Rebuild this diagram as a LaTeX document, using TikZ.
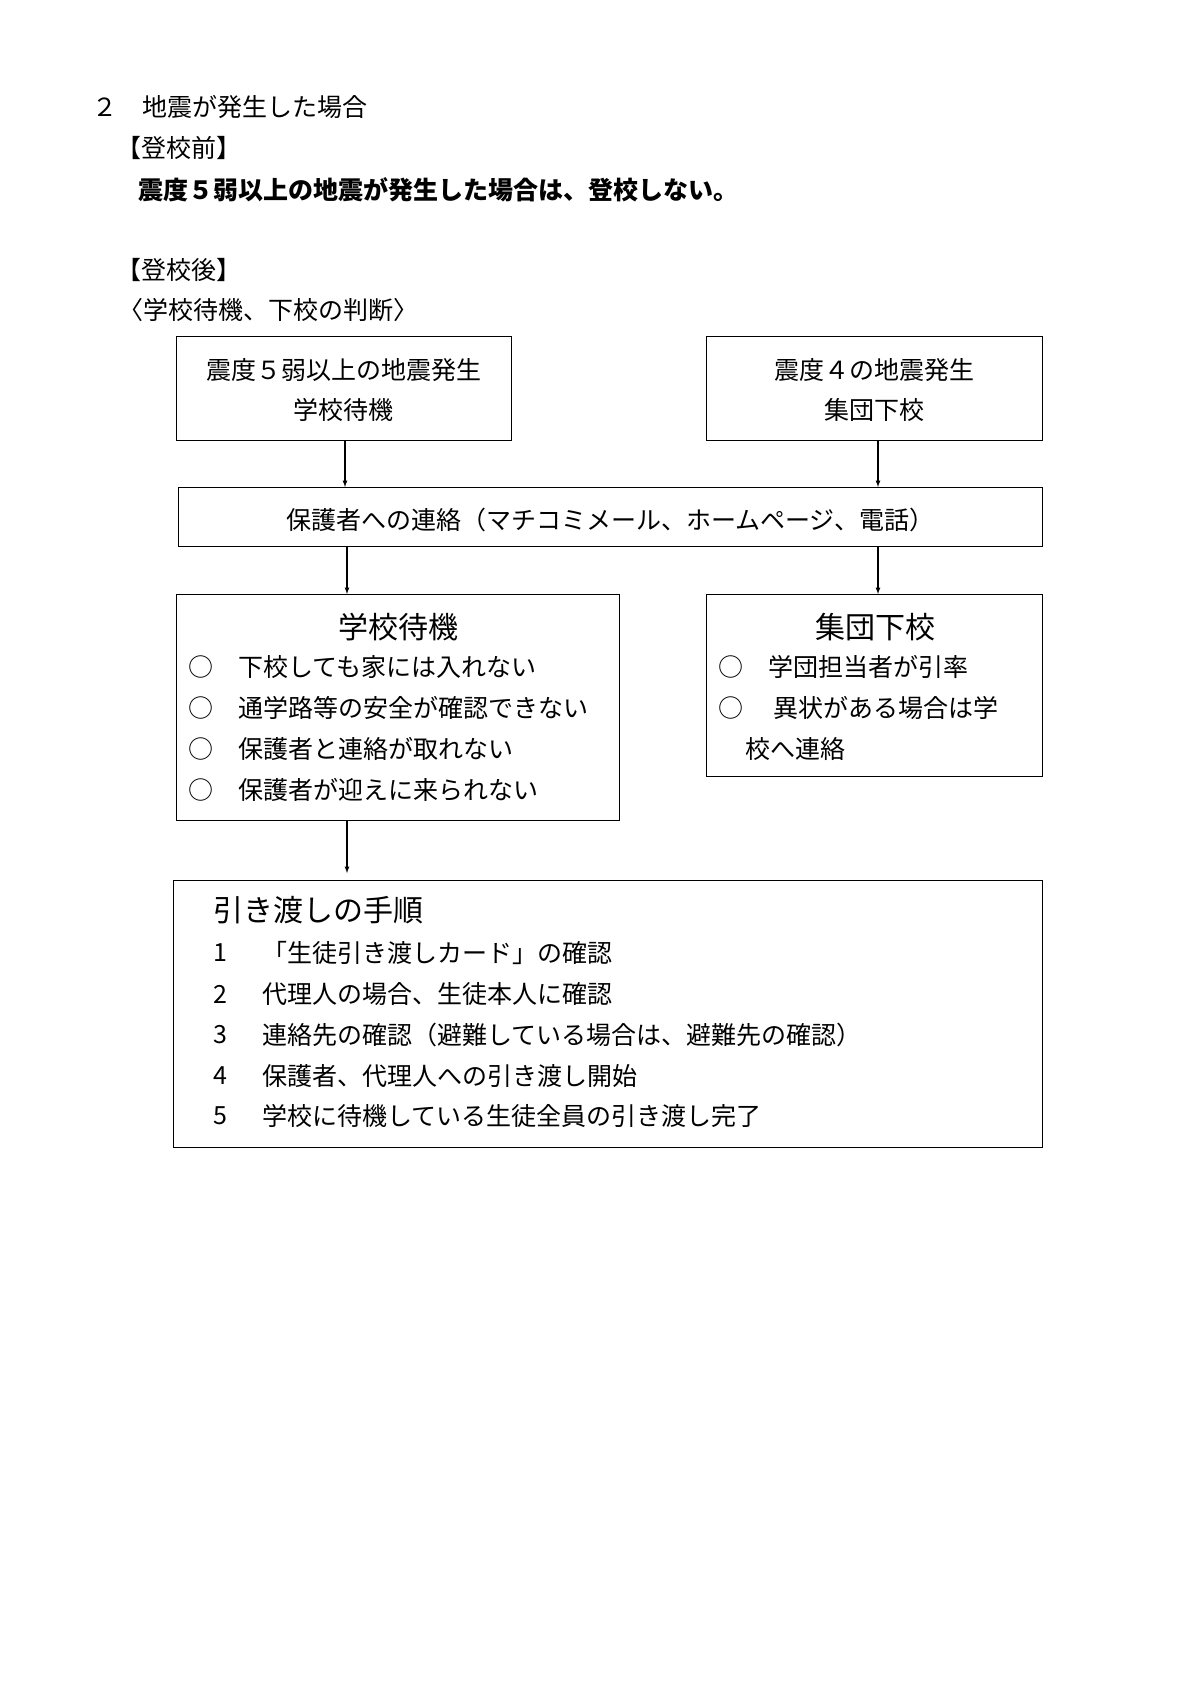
\documentclass[tikz,border=0pt]{standalone}
\usepackage{fontspec}
\newfontfamily\jp{Noto Sans CJK JP}
\begin{document}
\begin{tikzpicture}[x=1pt,y=-1pt,
  box/.style={draw,line width=0.8pt},
  txt/.style={font=\jp\fontsize{25}{30}\selectfont,inner sep=0pt},
  ttl/.style={font=\jp\fontsize{30}{36}\selectfont,inner sep=0pt},
  arr/.style={-latex,line width=1.2pt}]
\useasboundingbox (0,0) rectangle (1200,1698);
\node[txt,anchor=west] (h1) at (92,107) {２　地震が発生した場合};
\node[txt,anchor=west] (h2) at (116,148) {【登校前】};
\node[txt,anchor=west,font=\jp\bfseries\fontsize{25}{30}\selectfont] (h3) at (138,190) {震度５弱以上の地震が発生した場合は、登校しない。};
\node[txt,anchor=west] (h4) at (116,270) {【登校後】};
\node[txt,anchor=west] (h5) at (118,310) {〈学校待機、下校の判断〉};
% boxes
\draw[box] (176,336) rectangle (511,440);
\node[txt] (a1) at (343.5,370) {震度５弱以上の地震発生};
\node[txt] (a2) at (343.5,410) {学校待機};
\coordinate (aS) at (345,440);
\draw[box] (706,336) rectangle (1042,440);
\node[txt] (b1) at (874,370) {震度４の地震発生};
\node[txt] (b2) at (874,410) {集団下校};
\coordinate (bS) at (878,440);
\draw[box] (178,487) rectangle (1042,546);
\node[txt] (c1) at (610,520) {保護者への連絡（マチコミメール、ホームページ、電話）};
\coordinate (cN1) at (345,487); \coordinate (cN2) at (878,487);
\coordinate (cS1) at (347,546); \coordinate (cS2) at (878,546);
\draw[box] (176,594) rectangle (619,820);
\coordinate (dN) at (347,594); \coordinate (dS) at (347,820);
\node[ttl] (d0) at (398,627) {学校待機};
\node[txt,anchor=west] (d1) at (188,667) {○　下校しても家には入れない};
\node[txt,anchor=west] (d2) at (188,708) {○　通学路等の安全が確認できない};
\node[txt,anchor=west] (d3) at (188,749) {○　保護者と連絡が取れない};
\node[txt,anchor=west] (d4) at (188,790) {○　保護者が迎えに来られない};
\draw[box] (706,594) rectangle (1042,776);
\coordinate (eN) at (878,594);
\node[ttl] (e0) at (875,627) {集団下校};
\node[txt,anchor=west] (e1) at (718,667) {○　学団担当者が引率};
\node[txt,anchor=west] (e2) at (718,708) {○　 異状がある場合は学};
\node[txt,anchor=west] (e3) at (745,749) {校へ連絡};
\draw[box] (173,880) rectangle (1042,1147);
\coordinate (fN) at (347,873);
\node[ttl,anchor=west] (f0) at (213,910) {引き渡しの手順};
\foreach \n/\y/\t in {1/953/「生徒引き渡しカード」の確認,2/994/代理人の場合、生徒本人に確認,3/1035/連絡先の確認（避難している場合は、避難先の確認）,4/1076/保護者、代理人への引き渡し開始,5/1116/学校に待機している生徒全員の引き渡し完了}{
  \node[txt,anchor=west] (fn\n) at (213,\y) {\n};
  \node[txt,anchor=west] (ft\n) at (262,\y) {\t};
}
\draw[arr] (aS) -- (cN1);
\draw[arr] (bS) -- (cN2);
\draw[arr] (cS1) -- (dN);
\draw[arr] (cS2) -- (eN);
\draw[arr] (dS) -- (fN);
\end{tikzpicture}
\end{document}
